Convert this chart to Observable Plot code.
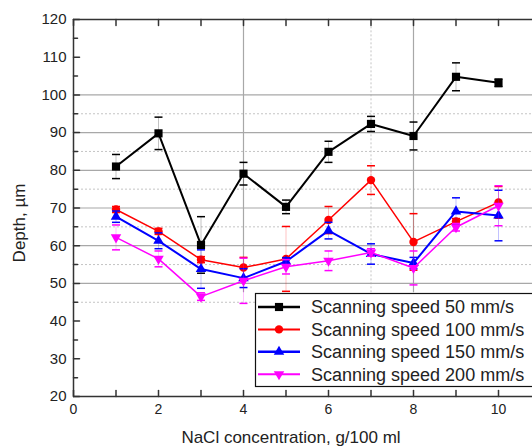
<!DOCTYPE html>
<html><head><meta charset="utf-8">
<script src="https://cdn.jsdelivr.net/npm/d3@7"></script>
<script src="https://cdn.jsdelivr.net/npm/@observablehq/plot@0.6"></script>
<style>html,body{margin:0;padding:0;background:#fff;overflow:hidden}</style>
</head><body><div id="chart"></div>
<script>
// ---- data ----
const concentration = [1, 2, 3, 4, 5, 6, 7, 8, 9, 10];
const seriesNames = ["Scanning speed 50 mm/s", "Scanning speed 100 mm/s", "Scanning speed 150 mm/s", "Scanning speed 200 mm/s"];
const depth50  = [81.0, 89.8, 60.2, 79.1, 70.3, 84.9, 92.3, 89.1, 104.8, 103.2];
const err50    = [3.2, 4.3, 7.5, 3.0, 1.8, 2.8, 2.0, 3.7, 3.7, 1.0];
const depth100 = [69.6, 63.8, 56.3, 54.2, 56.5, 66.8, 77.4, 61.0, 66.4, 71.5];
const err100   = [0.8, 0.8, 0.8, 2.7, 8.6, 3.6, 3.8, 7.5, 0.8, 4.2];
const depth150 = [67.7, 61.3, 53.8, 51.4, 55.8, 64.0, 57.8, 55.4, 69.1, 68.0];
const err150   = [1.5, 2.1, 5.1, 2.5, 1.0, 2.2, 2.7, 1.5, 3.6, 6.7];
const depth200 = [62.2, 56.5, 46.5, 50.7, 54.4, 56.0, 58.2, 54.1, 64.9, 70.6];
const err200   = [3.3, 2.1, 1.0, 6.0, 1.9, 2.6, 1.0, 4.5, 1.0, 5.3];
const yTicks = [20, 30, 40, 50, 60, 70, 80, 90, 100, 110, 120];
const yMinorTicks = [25, 35, 45, 55, 65, 75, 85, 95, 105, 115];
const xTickLabels = [0, 2, 4, 6, 8, 10];
const xTicksAll = [0, 1, 2, 3, 4, 5, 6, 7, 8, 9, 10];
const gridYSolid = [50, 60, 70, 80, 90, 100];
const gridYDotted = [45, 55, 65, 75, 85, 95];
const gridXSolid = [4, 8];
const gridXDotted = [7];
const xTitle = "NaCl concentration, g/100 ml";
const yTitle = "Depth, \u00b5m";

// ---- styles ----
const W = 532, H = 448, ML = 73, MT = 19, MB = 52;
const colors = ["#000000", "#ff0000", "#0000ff", "#ff00ff"];
const symbols = ["square", "circle", "triangle", "triangle"];
const rotations = [0, 0, 0, 180];
const radii = [4.6, 4.2, 3.9, 3.9];
const lineWidths = [2, 1.5, 2, 1.5];
const font = "'Liberation Sans', Arial, sans-serif";
const axisColor = "#333";

const depths = [depth50, depth100, depth150, depth200];
const errs = [err50, err100, err150, err200];
const series = depths.map((d, i) => concentration.map((c, j) => ({
  name: seriesNames[i], x: c, y: d[j], e: errs[i][j]
})));

const tickShape = {draw(ctx, l) { ctx.moveTo(0, 0); ctx.lineTo(0, -l); }};
const capSymbol = {draw(ctx, size) { const w = Math.sqrt(size) / 2; ctx.moveTo(-w, 0); ctx.lineTo(w, 0); }};

const marks = [
  Plot.ruleY(gridYDotted, {stroke: "#c4c4c4", strokeWidth: 1, strokeDasharray: "2,2"}),
  Plot.ruleX(gridXDotted, {y1: 47.5, y2: 120, stroke: "#c4c4c4", strokeWidth: 1, strokeDasharray: "2,2"}),
  Plot.ruleY(gridYSolid, {stroke: "#a8a8a8", strokeWidth: 1.2}),
  Plot.ruleX(gridXSolid, {y1: 47.5, y2: 120, stroke: "#a8a8a8", strokeWidth: 1.2}),
];
series.forEach((s, i) => {
  marks.push(
    Plot.ruleX(s, {x: "x", y1: d => d.y - d.e, y2: d => d.y + d.e, stroke: colors[i], strokeWidth: 0.8, strokeOpacity: 0.3}),
    Plot.dot(s, {x: "x", y: d => d.y + d.e, symbol: capSymbol, r: 4.5, stroke: colors[i], fill: "none", strokeWidth: 1.5}),
    Plot.dot(s, {x: "x", y: d => d.y - d.e, symbol: capSymbol, r: 4.5, stroke: colors[i], fill: "none", strokeWidth: 1.5}),
    Plot.line(s, {x: "x", y: "y", stroke: colors[i], strokeWidth: lineWidths[i]}),
    Plot.dot(s, {x: "x", y: "y", symbol: symbols[i], r: radii[i], fill: colors[i], stroke: "none", rotate: rotations[i]})
  );
});
marks.push(
  Plot.ruleX([0], {stroke: axisColor, strokeWidth: 1.5}),
  Plot.ruleY([20, 120], {stroke: axisColor, strokeWidth: 1.5}),
  Plot.vector(xTicksAll, {x: d => d, frameAnchor: "bottom", rotate: 0, length: 6, anchor: "start", shape: tickShape, stroke: axisColor, strokeWidth: 1.5}),
  Plot.vector(xTicksAll, {x: d => d, frameAnchor: "top", rotate: 180, length: 6, anchor: "start", shape: tickShape, stroke: axisColor, strokeWidth: 1.5}),
  Plot.vector(yTicks, {y: d => d, frameAnchor: "left", rotate: 90, length: 6, anchor: "start", shape: tickShape, stroke: axisColor, strokeWidth: 1.5}),
  Plot.vector(yMinorTicks, {y: d => d, frameAnchor: "left", rotate: 90, length: 4, anchor: "start", shape: tickShape, stroke: axisColor, strokeWidth: 1.5}),
  Plot.axisY(yTicks, {tickSize: 0, tickPadding: 7, fontSize: 15, label: null, fill: "#222"}),
  Plot.axisX(xTickLabels, {tickSize: 0, tickPadding: 8, fontSize: 14, label: null, fill: "#222"})
);

const svg = Plot.plot({
  width: W, height: H,
  marginLeft: ML, marginRight: 0, marginTop: MT, marginBottom: MB,
  style: {fontFamily: font, background: "#fff", overflow: "visible"},
  x: {domain: [0, 10.8]},
  y: {domain: [20, 120]},
  marks
});
document.getElementById("chart").appendChild(svg);

// ---- titles ----
const sel = d3.select(svg);
sel.append("text").attr("x", 291).attr("y", 443).attr("text-anchor", "middle")
  .attr("font-size", 17).attr("font-family", font).attr("fill", "#222").text(xTitle);
sel.append("text").attr("transform", "translate(25,223) rotate(-90)").attr("text-anchor", "middle")
  .attr("font-size", 17).attr("font-family", font).attr("fill", "#222").text(yTitle);

// ---- legend ----
const lg = sel.append("g");
lg.append("rect").attr("x", 255.5).attr("y", 293.5).attr("width", 300).attr("height", 93)
  .attr("fill", "#fff").attr("stroke", "#111").attr("stroke-width", 1.2);
const d3sym = {square: d3.symbolSquare, circle: d3.symbolCircle, triangle: d3.symbolTriangle};
seriesNames.forEach((name, i) => {
  const yy = 307 + i * 22.4;
  lg.append("line").attr("x1", 258).attr("x2", 300).attr("y1", yy).attr("y2", yy)
    .attr("stroke", colors[i]).attr("stroke-width", lineWidths[i] + 0.5);
  lg.append("path").attr("d", d3.symbol(d3sym[symbols[i]], radii[i] * radii[i] * Math.PI)())
    .attr("transform", `translate(279,${yy}) rotate(${rotations[i]})`).attr("fill", colors[i]);
  lg.append("text").attr("x", 311).attr("y", yy).attr("dy", "0.35em").attr("text-anchor", "start")
    .attr("font-size", 18).attr("font-family", font).attr("fill", "#222").text(name);
});
</script>
</body></html>
